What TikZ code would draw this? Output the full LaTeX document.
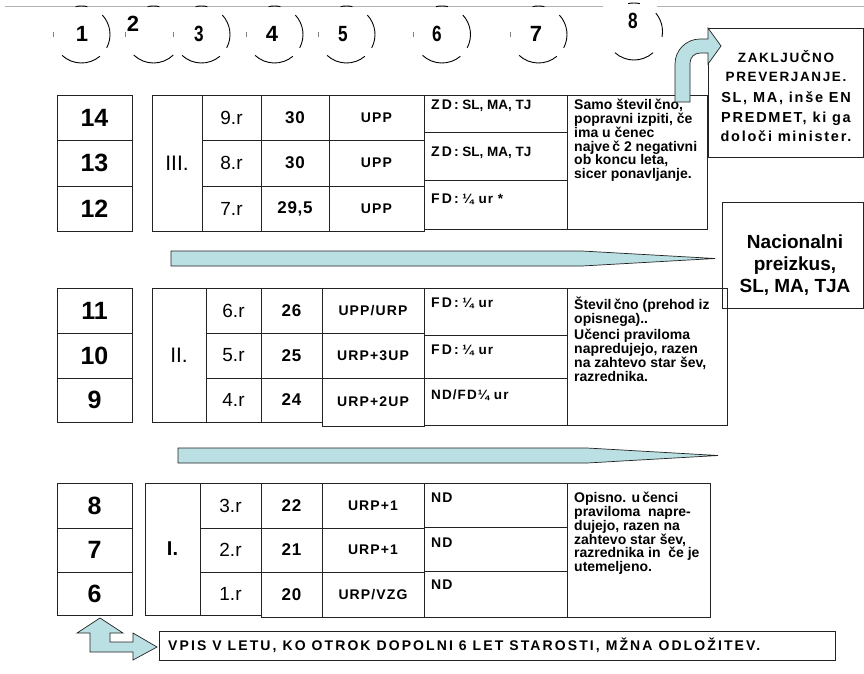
\documentclass[tikz,border=0pt]{standalone}
\usepackage{graphicx}
\usepackage{fontspec}
\setmainfont{Liberation Sans}
\newfontfamily\lsA[LetterSpace=4]{Liberation Sans}
\newfontfamily\lsB[LetterSpace=8]{Liberation Sans}
\newfontfamily\lsC[LetterSpace=15]{Liberation Sans}
\newfontfamily\lsD[LetterSpace=12]{Liberation Sans}
\newfontfamily\lsE[LetterSpace=15]{Liberation Sans}
\newcommand\zdf{\lsC\bfseries\fontsize{14}{14}\selectfont}
\newcommand\nrw[1]{\scalebox{0.78}[1]{#1}}
\definecolor{arr}{RGB}{187,224,227}
\definecolor{ln}{RGB}{35,35,35}
\begin{document}
\begin{tikzpicture}[x=1pt,y=-1pt,
  cell/.style={draw=ln, line width=0.8pt, fill=white, inner sep=0pt, outer sep=0pt},
  wh/.style 2 args={minimum width=#1pt, minimum height=#2pt},
  yr/.style={cell, minimum width=75pt, font=\bfseries\fontsize{25}{25}\selectfont},
  cls/.style={font=\fontsize{21}{21}\selectfont},
  rr/.style={font=\fontsize{19}{19}\selectfont},
  hrs/.style={font=\lsA\bfseries\fontsize{17}{17}\selectfont},
  prg/.style={font=\lsB\bfseries\fontsize{14}{14}\selectfont},
  zd/.style={anchor=west, inner sep=0pt, font=\bfseries\fontsize{13.5}{13.5}\selectfont},
  txt/.style={anchor=north west, inner sep=0pt, align=left, font=\bfseries\fontsize{14}{13.8}\selectfont},
  num/.style={inner sep=0pt, font=\bfseries\fontsize{22}{22}\selectfont},
  arcline/.style={draw=black, line width=0.9pt},
  tick/.style={draw=gray, line width=0.8pt},
  arrowshape/.style={fill=arr, draw=ln, line width=0.7pt, line join=miter}]
\useasboundingbox (0,0) rectangle (864,673);

% top rule
\coordinate (tlA) at (5,6); \coordinate (tlB) at (603,6);
\coordinate (tlC) at (657,6); \coordinate (tlD) at (864,6);
\draw[gray!60, line width=0.8pt] (tlA) -- (tlB) (tlC) -- (tlD);

% circles
\foreach \cx/\cy/\nm in {81.5/34.5/c1, 201.5/34.5/c3, 274.5/34.5/c4, 346.5/34.5/c5, 442/34.5/c6, 538.5/34.5/c7}{
  \coordinate (\nm) at (\cx,\cy);
  \draw[arcline] (\nm) ++(-28:28.5pt) arc[start angle=-28, end angle=43, radius=28.5pt];
  \draw[arcline] (\nm) ++(227:28.5pt) arc[start angle=227, end angle=310, radius=28.5pt];
  \draw[arcline] (\nm) ++(78:28.5pt) arc[start angle=78, end angle=102, radius=28.5pt];
  \draw[tick] (\nm) ++(175:28.5pt) arc[start angle=175, end angle=185, radius=28.5pt];
}
\coordinate (c2) at (153.5,34.5);
\draw[arcline] (c2) ++(226:28.5pt) arc[start angle=226, end angle=314, radius=28.5pt];
\draw[arcline] (c2) ++(78:28.5pt) arc[start angle=78, end angle=102, radius=28.5pt];
\draw[tick] (c2) ++(175:28.5pt) arc[start angle=175, end angle=185, radius=28.5pt];
\coordinate (c8) at (634,31.5);
\draw[arcline] (c8) ++(-11:28.5pt) arc[start angle=-11, end angle=40, radius=28.5pt];
\draw[arcline] (c8) ++(228:28.5pt) arc[start angle=228, end angle=312, radius=28.5pt];
\draw[arcline] (c8) ++(78:28.5pt) arc[start angle=78, end angle=102, radius=28.5pt];

\node[num] (n1) at (82,34) {1};
\node[num] (n2) at (133,24) {2};
\node[num] (n3) at (199,34) {\nrw{3}};
\node[num] (n4) at (272,34) {4};
\node[num] (n5) at (343,34) {\nrw{5}};
\node[num] (n6) at (437,34) {\nrw{6}};
\node[num] (n7) at (536,34) {7};
\node[num] (n8) at (633,21) {\nrw{8}};

% ===== group III =====
\node[yr, minimum height=45pt] (y14) at (94.5,117.5) {14};
\node[yr, minimum height=46pt] (y13) at (94.5,163) {13};
\node[yr, minimum height=45pt] (y12) at (94.5,208.5) {12};
\node[cell, wh={50}{136}, cls] (t3) at (177,163) {III.};
\node[cell, wh={59}{45}, rr] (r9) at (231.5,117.5) {9.r};
\node[cell, wh={59}{46}, rr] (r8) at (231.5,163) {8.r};
\node[cell, wh={59}{45}, rr] (r7) at (231.5,208.5) {7.r};
\node[cell, wh={68}{45}, hrs] (h9) at (295,117.5) {30};
\node[cell, wh={68}{46}, hrs] (h8) at (295,163) {30};
\node[cell, wh={68}{45}, hrs] (h7) at (295,208.5) {29,5};
\node[cell, wh={95}{45}, prg] (p9) at (376.5,117.5) {UPP};
\node[cell, wh={95}{46}, prg] (p8) at (376.5,163) {UPP};
\node[cell, wh={95}{45}, prg] (p7) at (376.5,208.5) {UPP};
\node[cell, wh={143}{37}] (d9) at (495.5,113.5) {};
\node[cell, wh={143}{48}] (d8) at (495.5,156) {};
\node[cell, wh={143}{49}] (d7) at (495.5,204.5) {};
\node[cell, wh={140}{134}] (e3) at (637,162) {};
\node[zd] (z9) at (431,106) {{\zdf ZD:} SL, MA, TJ};
\node[zd] (z8) at (431,153) {{\zdf ZD:} SL, MA, TJ};
\node[zd] (z7) at (431,199) {{\zdf FD:} {\lsB ¼ ur *}};
\node[txt] (x3) at (574,99) {Samo števil\,čno,\\popravni izpiti, če\\ima u čenec\\najve\,č 2 negativni\\ob koncu leta,\\sicer ponavljanje.};

% ===== group II =====
\node[yr, minimum height=45pt] (y11) at (94.5,310.5) {11};
\node[yr, minimum height=45pt] (y10) at (94.5,355.5) {10};
\node[yr, minimum height=44pt] (y9) at (94.5,400) {9};
\node[cell, wh={54}{134}, cls] (t2) at (179,355) {II.};
\node[cell, wh={55}{45}, rr] (r6) at (233.5,310.5) {6.r};
\node[cell, wh={55}{45}, rr] (r5) at (233.5,355.5) {5.r};
\node[cell, wh={55}{44}, rr] (r4) at (233.5,400) {4.r};
\node[cell, wh={61}{45}, hrs] (h6) at (291.5,310.5) {26};
\node[cell, wh={61}{45}, hrs] (h5) at (291.5,355.5) {25};
\node[cell, wh={61}{44}, hrs] (h4) at (291.5,400) {24};
\node[cell, wh={102}{45}, prg] (p6) at (373,310.5) {UPP/URP};
\node[cell, wh={102}{45}, prg] (p5) at (373,355.5) {URP+3UP};
\node[cell, wh={102}{48}, prg] (p4) at (373,402) {URP+2UP};
\node[cell, wh={143}{47}] (d6) at (495.5,311.5) {};
\node[cell, wh={143}{43}] (d5) at (495.5,356.5) {};
\node[cell, wh={143}{47}] (d4) at (495.5,401.5) {};
\node[cell, wh={160}{137}] (e2) at (647,356.5) {};
\node[zd] (z6) at (431,303) {{\zdf FD:} {\lsB ¼ ur}};
\node[zd] (z5) at (431,350) {{\zdf FD:} {\lsB ¼ ur}};
\node[zd] (z4) at (431,395) {{\lsB ND/FD¼ ur}};
\node[txt] (x2) at (574,297) {Števil\,čno (prehod iz\\opisnega)..\\[2.5pt]Učenci praviloma\\napredujejo, razen\\na zahtevo star šev,\\razrednika.};

% ===== group I =====
\node[yr, minimum height=45pt] (y8) at (94.5,505.5) {8};
\node[yr, minimum height=44pt] (y7) at (94.5,550) {7};
\node[yr, minimum height=43pt] (y6) at (94.5,593.5) {6};
\node[cell, wh={55}{132}, font=\bfseries\fontsize{20}{20}\selectfont] (t1) at (172.5,549) {I.};
\node[cell, wh={61}{45}, rr] (r3) at (230.5,505.5) {3.r};
\node[cell, wh={61}{44}, rr] (r2) at (230.5,550) {2.r};
\node[cell, wh={61}{43}, rr] (r1) at (230.5,593.5) {1.r};
\node[cell, wh={61}{45}, hrs] (h3) at (291.5,505.5) {22};
\node[cell, wh={61}{44}, hrs] (h2) at (291.5,550) {21};
\node[cell, wh={61}{45}, hrs] (h1) at (291.5,594.5) {20};
\node[cell, wh={102}{45}, prg] (p3) at (373,505.5) {URP+1};
\node[cell, wh={102}{44}, prg] (p2) at (373,550) {URP+1};
\node[cell, wh={102}{45}, prg] (p1) at (373,594.5) {URP/VZG};
\node[cell, wh={143}{44}] (d3) at (495.5,505) {};
\node[cell, wh={143}{44}] (d2) at (495.5,549) {};
\node[cell, wh={143}{46}] (d1) at (495.5,594) {};
\node[cell, wh={143}{134}] (e1) at (638.5,550) {};
\node[zd] (z3) at (431,498) {{\lsB\fontsize{14}{14}\selectfont ND}};
\node[zd] (z2) at (431,543) {{\lsB\fontsize{14}{14}\selectfont ND}};
\node[zd] (z1) at (431,585) {{\lsB\fontsize{14}{14}\selectfont ND}};
\node[txt] (x1) at (574,492) {Opisno. u\,čenci\\praviloma\ \ napre-\\dujejo, razen na\\zahtevo star šev,\\razrednika in\ \ če je\\utemeljeno.};

% ===== right boxes =====
\node[cell, wh={155}{129}] (zak) at (785.5,92.5) {};
\node[inner sep=0pt, align=center, font=\lsD\bfseries\fontsize{13.5}{19}\selectfont] (zk1) at (786,66) {ZAKLJUČNO\\PREVERJANJE.};
\node[inner sep=0pt, align=center, font=\lsD\bfseries\fontsize{14.5}{19.5}\selectfont] (zk2) at (786,117) {SL, MA, inše EN\\PREDMET, ki ga\\določi minister.};
\node[draw=ln, line width=0.8pt, inner sep=0pt, wh={141}{106}] (nac) at (792.5,255) {};
\node[inner sep=0pt, align=center, font=\bfseries\fontsize{19}{22}\selectfont] (nact) at (795,265) {Nacionalni\\preizkus,\\SL, MA, TJA};

% curved arrow to ZAKLJUCNO
\draw[arrowshape] (675,102) -- (675,64) arc[start angle=180, end angle=90, radius=25pt]
  -- (708,39) -- (708,28) -- (721,46) -- (708,64) -- (708,53) -- (700,53)
  arc[start angle=90, end angle=180, radius=10pt] -- (690,102) -- cycle;

% tapered arrows
\draw[arrowshape] (171,251) -- (582,251) -- (715,258.5) -- (582,266) -- (171,266) -- cycle;
\draw[arrowshape] (178,448) -- (587,448) -- (718,455.5) -- (587,463) -- (178,463) -- cycle;

% bottom box and arrow
\node[cell, wh={676}{29}] (vp) at (497,645.5) {};
\node[anchor=west, inner sep=0pt, font=\lsE\bfseries\fontsize{14}{14}\selectfont] (vpt) at (168,645.5) {VPIS V LETU, KO OTROK DOPOLNI 6 LET STAROSTI, MŽNA ODLOŽITEV.};
\draw[arrowshape] (100,618) -- (123,633) -- (110,633) -- (110,642) -- (133,642) -- (133,633)
  -- (157,647) -- (133,660) -- (133,652) -- (90,652) -- (90,633) -- (77,633) -- cycle;
\end{tikzpicture}
\end{document}
